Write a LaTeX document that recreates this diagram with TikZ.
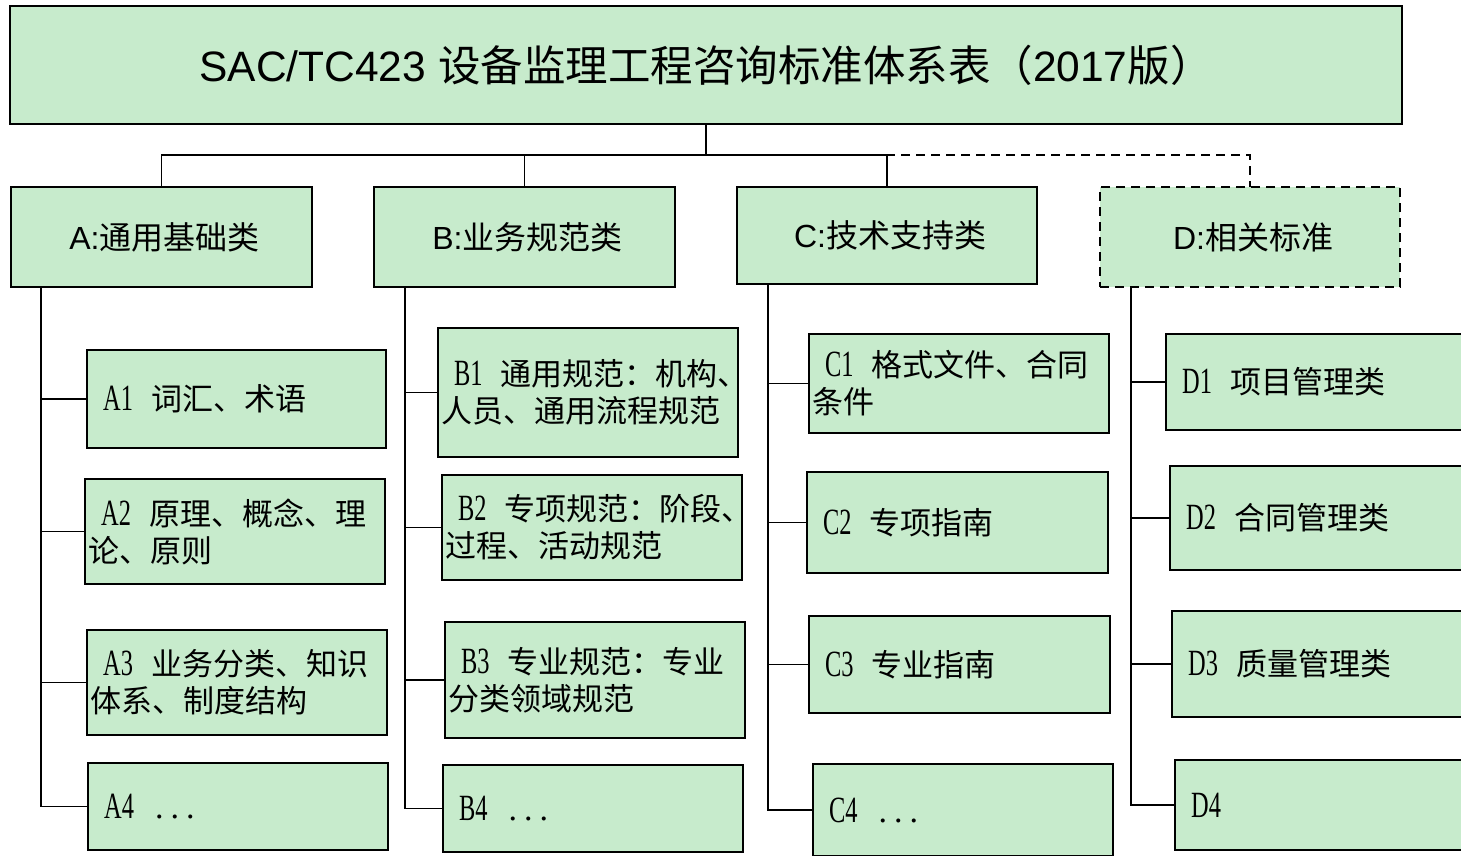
\documentclass[tikz,border=0pt]{standalone}
\usepackage{fontspec}
\setmainfont{Liberation Sans}
\newfontfamily\cjk{Noto Sans CJK SC}
\newfontfamily\serifl[FakeStretch=0.66]{Liberation Serif}
\newfontfamily\serifd{Liberation Serif}
\newcommand\LatS[1]{{\fontsize{37}{37}\serifl #1}}
\newcommand\DotsS{{\fontsize{34}{34}\serifd .\hspace{7pt}.\hspace{7pt}.}}
\definecolor{boxgreen}{RGB}{199,235,204}
\tikzset{
  box/.style={draw=black, line width=1.8pt, fill=boxgreen, inner sep=0pt, outer sep=0pt},
  cat/.style={box, font=\fontsize{32}{38}\selectfont},
  leaf/.style={box},
  lt/.style={font=\fontsize{31}{37}\selectfont\cjk, align=left, anchor=west, inner sep=0pt},
  conn/.style={line width=1.8pt, black},
  dconn/.style={line width=1.6pt, black, dash pattern=on 9pt off 6pt},
}
\begin{document}
\begin{tikzpicture}[x=1pt, y=-1pt]
\useasboundingbox (0,0) rectangle (1461,855);
\clip (0,0) rectangle (1461,855);

% title
\node[box, minimum width=1392pt, minimum height=118pt, font=\fontsize{42.5}{48}\selectfont] (T) at (706,65)
  {SAC/TC423 {\cjk 设备监理工程咨询标准体系表（}2017{\cjk 版）}};

% categories
\node[cat, minimum width=301pt, minimum height=100pt] (A) at (161.5,237) {\hspace*{6pt}A:{\cjk 通用基础类}};
\node[cat, minimum width=301pt, minimum height=100pt] (B) at (524.5,237) {\hspace*{6pt}B:{\cjk 业务规范类}};
\node[cat, minimum width=300pt, minimum height=97pt] (C) at (887,235.5) {\hspace*{6pt}C:{\cjk 技术支持类}};
\node[cat, minimum width=300pt, minimum height=100pt, dash pattern=on 9pt off 6pt] (D) at (1250,237) {\hspace*{6pt}D:{\cjk 相关标准}};

% top connectors
\coordinate (J) at (706,155);
\draw[dconn] (J) -| (D.north);
\draw[conn] (T.south) -- (J);
\draw[conn] (J) -| (A.north);
\draw[conn] (J) -| (B.north);
\draw[conn] (J) -| (C.north);

% A leaves
\node[leaf, minimum width=299pt, minimum height=98pt] (A1) at (236.5,399) {};
\node[leaf, minimum width=300pt, minimum height=105pt] (A2) at (235,531.5) {};
\node[leaf, minimum width=300pt, minimum height=105pt] (A3) at (237,682.5) {};
\node[leaf, minimum width=300pt, minimum height=87pt] (A4) at (238,806.5) {};
\node[lt] (A1t) at ([xshift=3pt]A1.west) {\hspace*{13pt}\LatS{A1}\hspace{18pt}词汇、术语};
\node[lt] (A2t) at ([xshift=3pt]A2.west) {\hspace*{13pt}\LatS{A2}\hspace{18pt}原理、概念、理\\论、原则};
\node[lt] (A3t) at ([xshift=3pt]A3.west) {\hspace*{13pt}\LatS{A3}\hspace{18pt}业务分类、知识\\体系、制度结构};
\node[lt] (A4t) at ([xshift=3pt]A4.west) {\hspace*{13pt}\LatS{A4}\hspace{21pt}\DotsS};

% B leaves
\node[leaf, minimum width=300pt, minimum height=129pt] (B1) at (588,392.5) {};
\node[leaf, minimum width=300pt, minimum height=105pt] (B2) at (592,527.5) {};
\node[leaf, minimum width=300pt, minimum height=116pt] (B3) at (595,680) {};
\node[leaf, minimum width=300pt, minimum height=87pt] (B4) at (593,808.5) {};
\node[lt] (B1t) at ([xshift=3pt]B1.west) {\hspace*{13pt}\LatS{B1}\hspace{18pt}通用规范：机构、\\人员、通用流程规范};
\node[lt] (B2t) at ([xshift=3pt]B2.west) {\hspace*{13pt}\LatS{B2}\hspace{18pt}专项规范：阶段、\\过程、活动规范};
\node[lt] (B3t) at ([xshift=3pt]B3.west) {\hspace*{13pt}\LatS{B3}\hspace{18pt}专业规范：专业\\分类领域规范};
\node[lt] (B4t) at ([xshift=3pt]B4.west) {\hspace*{13pt}\LatS{B4}\hspace{21pt}\DotsS};

% C leaves
\node[leaf, minimum width=300pt, minimum height=99pt] (C1) at (959,383.5) {};
\node[leaf, minimum width=301pt, minimum height=101pt] (C2) at (957.5,522.5) {};
\node[leaf, minimum width=301pt, minimum height=97pt] (C3) at (959.5,664.5) {};
\node[leaf, minimum width=300pt, minimum height=92pt] (C4) at (963,810) {};
\node[lt] (C1t) at ([xshift=3pt]C1.west) {\hspace*{13pt}\LatS{C1}\hspace{18pt}格式文件、合同\\条件};
\node[lt] (C2t) at ([xshift=3pt]C2.west) {\hspace*{13pt}\LatS{C2}\hspace{18pt}专项指南};
\node[lt] (C3t) at ([xshift=3pt]C3.west) {\hspace*{13pt}\LatS{C3}\hspace{18pt}专业指南};
\node[lt] (C4t) at ([xshift=3pt]C4.west) {\hspace*{13pt}\LatS{C4}\hspace{21pt}\DotsS};

% D leaves
\node[leaf, minimum width=300pt, minimum height=96pt] (D1) at (1316,382) {};
\node[leaf, minimum width=300pt, minimum height=104pt] (D2) at (1320,518) {};
\node[leaf, minimum width=300pt, minimum height=106pt] (D3) at (1322,664) {};
\node[leaf, minimum width=300pt, minimum height=90pt] (D4) at (1325,805) {};
\node[lt] (D1t) at ([xshift=3pt]D1.west) {\hspace*{13pt}\LatS{D1}\hspace{18pt}项目管理类};
\node[lt] (D2t) at ([xshift=3pt]D2.west) {\hspace*{13pt}\LatS{D2}\hspace{18pt}合同管理类};
\node[lt] (D3t) at ([xshift=3pt]D3.west) {\hspace*{13pt}\LatS{D3}\hspace{18pt}质量管理类};
\node[lt] (D4t) at ([xshift=3pt]D4.west) {\hspace*{13pt}\LatS{D4}};

% stems and ticks
\foreach \g/\s in {A/30, B/31, C/31, D/31}{
  \coordinate (\g s) at ([xshift=\s pt]\g.south west);
  \draw[conn] (\g s) |- (\g 4.west);
  \foreach \i in {1,2,3}{
    \draw[conn] (\g s |- \g\i.west) -- (\g\i.west);
  }
}
\end{tikzpicture}
\end{document}
